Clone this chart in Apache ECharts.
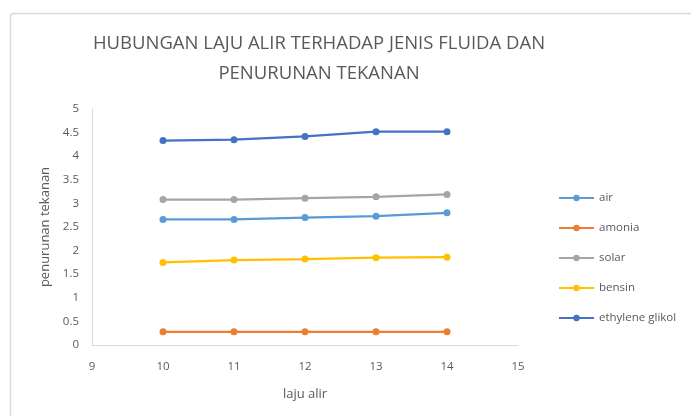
<!DOCTYPE html>
<html>
<head>
<meta charset="utf-8">
<script src="https://cdn.jsdelivr.net/npm/echarts@6/dist/echarts.min.js"></script>
<style>html,body{margin:0;padding:0;background:#fff;}#c{width:691px;height:416px;}</style>
</head>
<body>
<div id="c"></div>
<script>
var xValues = [10, 11, 12, 13, 14];
var seriesNames = ['air', 'amonia', 'solar', 'bensin', 'ethylene glikol'];
var air = [2.66, 2.66, 2.70, 2.73, 2.80];
var amonia = [0.28, 0.28, 0.28, 0.28, 0.28];
var solar = [3.08, 3.08, 3.11, 3.14, 3.19];
var bensin = [1.75, 1.80, 1.82, 1.85, 1.86];
var ethyleneGlikol = [4.33, 4.35, 4.42, 4.52, 4.52];
var colors = ['#5B9BD5', '#ED7D31', '#A5A5A5', '#FFC000', '#4472C4'];
var titleText = 'HUBUNGAN LAJU ALIR TERHADAP JENIS FLUIDA DAN\nPENURUNAN TEKANAN';

var allData = [air, amonia, solar, bensin, ethyleneGlikol];
var font = '"Open Sans", sans-serif';
var chart = echarts.init(document.getElementById('c'));
chart.setOption({
  animation: false,
  color: colors,
  title: {
    text: titleText,
    left: 314, top: 24, textAlign: 'center',
    textStyle: { fontFamily: font, fontSize: 18.5, fontWeight: 'normal', color: '#595959', lineHeight: 30 }
  },
  graphic: [{
    type: 'rect', shape: { x: 10.5, y: 13.5, width: 700, height: 420, r: 3 },
    style: { fill: 'none', stroke: '#d9d9d9', lineWidth: 1.5 }, silent: true, z: -1
  }],
  legend: {
    orient: 'vertical', left: 553, top: 186,
    itemWidth: 35, itemHeight: 8, itemGap: 16,
    textStyle: { fontFamily: font, fontSize: 11.5, color: '#595959', lineHeight: 14 },
    data: seriesNames
  },
  grid: { left: 92, right: 173, top: 109, bottom: 71 },
  xAxis: {
    type: 'value', min: 9, max: 15, interval: 1,
    name: 'laju alir', nameLocation: 'middle', nameGap: 43,
    nameTextStyle: { fontFamily: font, fontSize: 13, color: '#595959' },
    axisLine: { show: true, lineStyle: { color: '#d9d9d9', width: 1 } },
    axisTick: { show: false }, splitLine: { show: false },
    axisLabel: { fontFamily: font, fontSize: 11.5, color: '#595959', margin: 16 }
  },
  yAxis: {
    type: 'value', min: 0, max: 5, interval: 0.5,
    name: 'penurunan tekanan', nameLocation: 'middle', nameGap: 38, nameRotate: 90,
    nameTextStyle: { fontFamily: font, fontSize: 13, color: '#595959' },
    axisLine: { show: true, lineStyle: { color: '#d9d9d9', width: 1 } },
    axisTick: { show: false }, splitLine: { show: false },
    axisLabel: { fontFamily: font, fontSize: 11.5, color: '#595959', margin: 13 }
  },
  series: seriesNames.map(function (n, i) {
    return {
      name: n, type: 'line',
      data: xValues.map(function (x, j) { return [x, allData[i][j]]; }),
      symbol: 'circle', symbolSize: 7,
      lineStyle: { width: 2.25, color: colors[i] },
      itemStyle: { color: colors[i] }
    };
  })
});
</script>
</body>
</html>
